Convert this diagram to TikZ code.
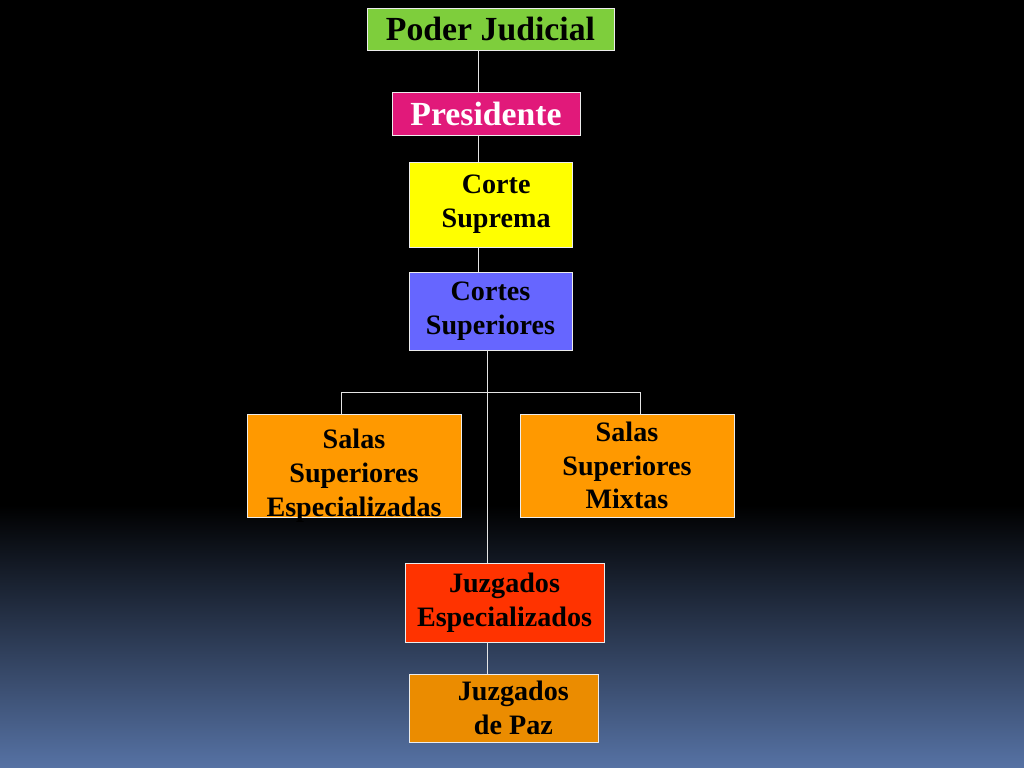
\documentclass[tikz,border=0pt]{standalone}
\usepackage{fontspec}
\setmainfont{Liberation Serif}
\usepackage{tikz}
\usetikzlibrary{calc}
\definecolor{bgblue}{RGB}{86,114,164}
\definecolor{pjgreen}{RGB}{126,206,60}
\definecolor{pjmagenta}{RGB}{225,25,122}
\definecolor{pjyellow}{RGB}{255,255,0}
\definecolor{pjblue}{RGB}{102,102,255}
\definecolor{pjorange}{RGB}{255,153,0}
\definecolor{pjred}{RGB}{255,51,0}
\definecolor{pjpaz}{RGB}{235,140,0}

\begin{document}
\begin{tikzpicture}[x=0.025cm, y=0.025cm,
  box/.style={draw=white!85!gray, line width=0.6pt, inner sep=1pt, align=center,
    font=\fontsize{20}{24}\selectfont\bfseries},
  conn/.style={draw=white!80!gray, line width=0.7pt}]
% background
\fill[black] (0,0) rectangle (1024,-768);
\shade[top color=black, bottom color=bgblue] (0,-505) rectangle (1024,-768);
\useasboundingbox (0,0) rectangle (1024,-768);
% boxes
\node[box, fill=pjgreen, minimum width=6.175cm, minimum height=1.05cm,
  font=\fontsize{24}{28}\selectfont\bfseries] (poder) at (490.5,-29) {Poder Judicial};
\node[box, fill=pjmagenta, text=white, minimum width=4.7cm, minimum height=1.075cm,
  font=\fontsize{24}{28}\selectfont\bfseries] (pres) at (486,-113.5) {Presidente};
\node[box, fill=pjyellow, minimum width=4.075cm, minimum height=2.125cm] (corte) at (490.5,-204.5)
  {\hspace*{8pt}Corte\\\hspace*{8pt}Suprema};
\node[box, fill=pjblue, minimum width=4.075cm, minimum height=1.95cm] (cortes) at (490.5,-311)
  {Cortes\\ Superiores};
\node[box, fill=pjorange, minimum width=5.35cm, minimum height=2.575cm,
  text height=72pt, text depth=0pt, inner ysep=0pt] (salasesp) at (354,-465.5)
  {Salas\\Superiores\\Especializadas};
\node[box, fill=pjorange, minimum width=5.35cm, minimum height=2.575cm] (salasmix) at (627,-465.5)
  {Salas\\Superiores\\Mixtas};
\node[box, fill=pjred, minimum width=4.975cm, minimum height=1.975cm] (juzesp) at (504.5,-602.5)
  {Juzgados\\Especializados};
\node[box, fill=pjpaz, minimum width=4.725cm, minimum height=1.7cm] (juzpaz) at (503.5,-708)
  {\hspace*{14pt}Juzgados\\\hspace*{14pt}de Paz};
% connectors
\coordinate (trunkA) at (478,0);
\coordinate (trunkB) at (487,0);
\coordinate (legL) at (341,-392.5);
\coordinate (legR) at (640,-392.5);
\draw[conn] (poder.south -| trunkA) -- (pres.north -| trunkA);
\draw[conn] (pres.south -| trunkA) -- (corte.north -| trunkA);
\draw[conn] (corte.south -| trunkA) -- (cortes.north -| trunkA);
\draw[conn] (cortes.south -| trunkB) -- (juzesp.north -| trunkB);
\draw[conn] (salasesp.north -| legL) -- (legL) -- (legR) -- (salasmix.north -| legR);
\draw[conn] (juzesp.south -| trunkB) -- (juzpaz.north -| trunkB);
\end{tikzpicture}
\end{document}
